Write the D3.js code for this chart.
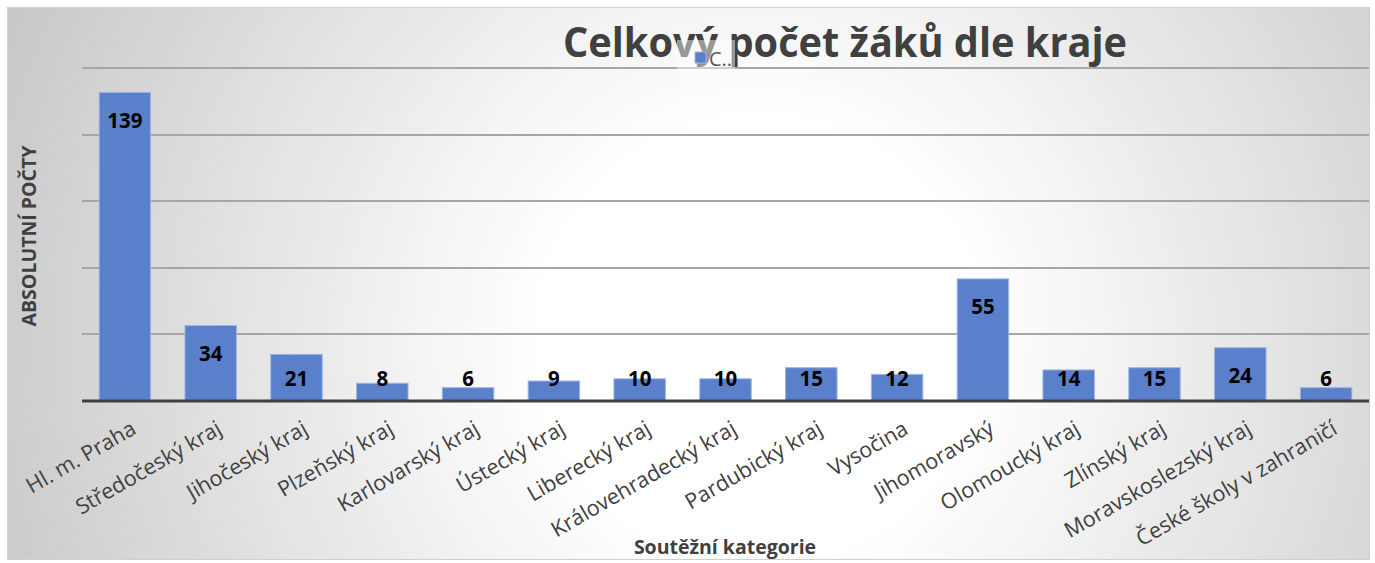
<!DOCTYPE html>
<meta charset="utf-8">
<style>
body { margin: 0; background: #fff; }
svg { display: block; }
text { font-family: "Open Sans", "Noto Sans", sans-serif; }
.grid line { stroke: #a6a6a6; stroke-width: 2px; }
.baseline { stroke: #404040; stroke-width: 3px; }
.bar { fill: #5a7fcb; stroke: #9fb4e2; stroke-width: 1px; }
.value { font-weight: bold; font-size: 20.5px; fill: #000; }
.cat { font-size: 21.5px; fill: #404040; }
.title { font-weight: bold; font-size: 42px; fill: #404040; }
.axis-title { font-weight: bold; font-size: 19.5px; fill: #404040; }
.legend-text { font-size: 20px; fill: #595959; }
</style>
<svg width="1375" height="563"></svg>
<script src="https://cdn.jsdelivr.net/npm/d3@7"></script>
<script>
var categories = ["Hl. m. Praha", "Středočeský kraj", "Jihočeský kraj", "Plzeňský kraj",
  "Karlovarský kraj", "Ústecký kraj", "Liberecký kraj", "Královehradecký kraj",
  "Pardubický kraj", "Vysočina", "Jihomoravský", "Olomoucký kraj", "Zlínský kraj",
  "Moravskoslezský kraj", "České školy v zahraničí"];
var values = [139, 34, 21, 8, 6, 9, 10, 10, 15, 12, 55, 14, 15, 24, 6];
var yTicks = [30, 60, 90, 120, 150];
var seriesName = "C..";

var svg = d3.select("svg"),
    width = +svg.attr("width"),
    height = +svg.attr("height");

var plot = {left: 82, right: 1369, top: 68, bottom: 401};

// background
var defs = svg.append("defs");
var grad = defs.append("radialGradient")
    .attr("id", "bg")
    .attr("gradientUnits", "userSpaceOnUse")
    .attr("cx", 760).attr("cy", 340).attr("r", 880);
grad.append("stop").attr("offset", 0.25).attr("stop-color", "#ffffff");
grad.append("stop").attr("offset", 1).attr("stop-color", "#c2c2c2");

svg.append("rect")
    .attr("x", 7.5).attr("y", 7.5)
    .attr("width", 1362).attr("height", 552)
    .attr("fill", "url(#bg)")
    .attr("stroke", "#d0d0d0");

var x = d3.scaleBand()
    .domain(categories)
    .range([plot.left, plot.right])
    .paddingInner(0.4)
    .paddingOuter(0.2);

var y = d3.scaleLinear()
    .domain([0, 150])
    .range([plot.bottom, plot.top]);

// gridlines
svg.append("g")
    .attr("class", "grid")
    .selectAll("line")
    .data(yTicks)
  .enter().append("line")
    .attr("x1", plot.left).attr("x2", plot.right)
    .attr("y1", function(d) { return Math.round(y(d)); })
    .attr("y2", function(d) { return Math.round(y(d)); });

// bars
svg.append("g")
    .selectAll("rect")
    .data(values)
  .enter().append("rect")
    .attr("class", "bar")
    .attr("x", function(d, i) { return x(categories[i]); })
    .attr("y", function(d) { return y(d); })
    .attr("width", x.bandwidth())
    .attr("height", function(d) { return y(0) - y(d); });

svg.append("line")
    .attr("class", "baseline")
    .attr("x1", plot.left).attr("x2", plot.right)
    .attr("y1", plot.bottom).attr("y2", plot.bottom);

// value labels
svg.append("g")
    .selectAll("text")
    .data(values)
  .enter().append("text")
    .attr("class", "value")
    .attr("text-anchor", "middle")
    .attr("x", function(d, i) { return x(categories[i]) + x.bandwidth() / 2; })
    .attr("y", function(d) { return Math.min(y(d) + 28, plot.bottom - 22); })
    .attr("dy", "0.36em")
    .text(function(d) { return d; });

// category labels
svg.append("g")
    .selectAll("text")
    .data(categories)
  .enter().append("text")
    .attr("class", "cat")
    .attr("text-anchor", "end")
    .attr("transform", function(d) {
      return "translate(" + (x(d) + x.bandwidth() / 2 + 4) + "," + 418 + ") rotate(-30)";
    })
    .attr("dy", "0.8em")
    .text(function(d) { return d; });

// axis titles
svg.append("text")
    .attr("class", "axis-title")
    .attr("text-anchor", "middle")
    .attr("transform", "translate(36,236) rotate(-90)")
    .text("ABSOLUTNÍ POČTY");

svg.append("text")
    .attr("class", "axis-title")
    .attr("text-anchor", "middle")
    .attr("x", 725).attr("y", 554)
    .text("Soutěžní kategorie");

// title
svg.append("text")
    .attr("class", "title")
    .attr("x", 563).attr("y", 57)
    .attr("textLength", 564)
    .attr("lengthAdjust", "spacingAndGlyphs")
    .text("Celkový počet žáků dle kraje");

// legend (sits on top of the title)
var legend = svg.append("g");
legend.append("rect")
    .attr("x", 677).attr("y", 40)
    .attr("width", 58).attr("height", 33)
    .attr("fill", "#fff").attr("fill-opacity", 0.45);
legend.append("rect")
    .attr("class", "bar")
    .attr("x", 695).attr("y", 52)
    .attr("width", 11).attr("height", 11);
legend.append("text")
    .attr("class", "legend-text")
    .attr("x", 709).attr("y", 66)
    .text(seriesName);
</script>
